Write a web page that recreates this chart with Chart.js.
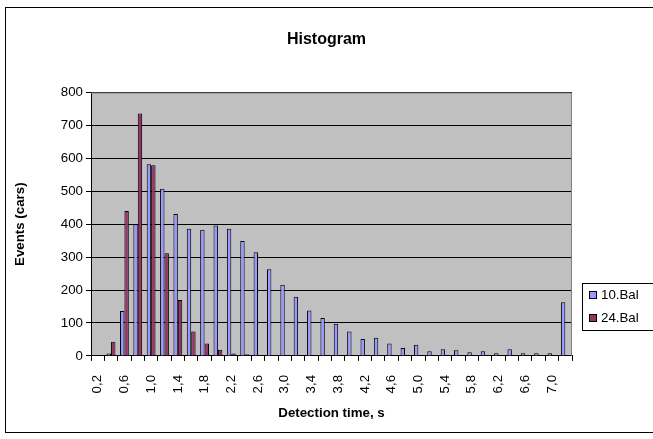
<!DOCTYPE html>
<html><head><meta charset="utf-8">
<script src="https://cdn.jsdelivr.net/npm/chart.js@4/dist/chart.umd.min.js"></script>
<style>html,body{margin:0;padding:0;background:#fff;}</style>
</head><body>
<canvas id="c" width="653" height="439" style="display:block;width:653px;height:439px"></canvas>
<script>
const categories = ['0,2','0,4','0,6','0,8','1,0','1,2','1,4','1,6','1,8','2,0','2,2','2,4','2,6','2,8','3,0','3,2','3,4','3,6','3,8','4,0','4,2','4,4','4,6','4,8','5,0','5,2','5,4','5,6','5,8','6,0','6,2','6,4','6,6','6,8','7,0','More'];
const bal10 = [0,7,136,400,582,508,431,386,383,396,386,349,315,263,216,180,138,115,98,74,51,55,38,24,34,14,20,17,11,14,8,20,8,8,8,163];
const bal24 = [0,43,440,736,579,312,170,74,38,19,7,5,3,3,0,0,0,0,0,0,0,0,0,0,0,0,0,0,0,0,0,0,0,0,0,0];
const seriesNames = ['10.Bal','24.Bal'];
const seriesColors = ['#9999FF','#993366'];
const chartTitle = 'Histogram';
const xTitle = 'Detection time, s';
const yTitle = 'Events (cars)';

const FONT = "'Liberation Sans', Arial, sans-serif";

const decor = {
  id: 'decor',
  beforeDraw(chart) {
    const ctx = chart.ctx, a = chart.chartArea;
    ctx.save();
    ctx.fillStyle = '#fff';
    ctx.fillRect(0, 0, chart.width, chart.height);
    ctx.strokeStyle = '#000';
    ctx.lineWidth = 1;
    ctx.strokeRect(5.5, 7.5, 700, 425);
    ctx.fillStyle = '#C0C0C0';
    ctx.fillRect(a.left, a.top, a.right - a.left, a.bottom - a.top);
    ctx.fillStyle = '#000';
    ctx.font = 'bold 16px ' + FONT;
    ctx.textAlign = 'center';
    ctx.textBaseline = 'middle';
    ctx.fillText(chartTitle, chart.width / 2, 40);
    ctx.restore();
  },
  afterDraw(chart) {
    const ctx = chart.ctx, a = chart.chartArea;
    ctx.save();
    ctx.strokeStyle = '#808080';
    ctx.lineWidth = 1;
    ctx.beginPath();
    ctx.moveTo(a.left, a.top + 0.5);
    ctx.lineTo(Math.round(a.right) - 0.5, a.top + 0.5);
    ctx.lineTo(Math.round(a.right) - 0.5, a.bottom);
    ctx.stroke();
    const lx = 582.5, ly = 283.5;
    ctx.fillStyle = '#fff';
    ctx.fillRect(lx, ly, 80, 47);
    ctx.strokeStyle = '#000';
    ctx.strokeRect(lx, ly, 80, 47);
    ctx.font = '13.3px ' + FONT;
    ctx.textBaseline = 'middle';
    ctx.textAlign = 'left';
    chart.data.datasets.forEach((ds, i) => {
      const cy = 295 + i * 23;
      ctx.fillStyle = ds.backgroundColor;
      ctx.fillRect(589.5, cy - 3.5, 7, 7);
      ctx.strokeStyle = '#000';
      ctx.strokeRect(589.5, cy - 3.5, 7, 7);
      ctx.fillStyle = '#000';
      ctx.fillText(ds.label, 601, cy + 0.5);
    });
    ctx.restore();
  }
};

new Chart(document.getElementById('c'), {
  type: 'bar',
  data: {
    labels: categories,
    datasets: [
      { label: seriesNames[0], data: bal10, backgroundColor: seriesColors[0], borderColor: '#000', borderWidth: 1, borderSkipped: 'start' },
      { label: seriesNames[1], data: bal24, backgroundColor: seriesColors[1], borderColor: '#000', borderWidth: 1, borderSkipped: 'start' }
    ]
  },
  options: {
    responsive: false,
    animation: false,
    devicePixelRatio: 1,
    layout: { padding: { left: 8.8, right: 81, top: 92.5, bottom: 14 } },
    datasets: { bar: { categoryPercentage: 0.66, barPercentage: 1.0 } },
    plugins: {
      legend: { display: false },
      tooltip: { enabled: false },
      title: { display: false }
    },
    scales: {
      x: {
        afterFit(s) { s.height = 69.1; },
        grid: { display: true, drawOnChartArea: false, drawTicks: true, tickLength: 5, color: '#000', offset: true },
        border: { display: true, color: '#000' },
        ticks: {
          autoSkip: false, minRotation: 90, maxRotation: 90, padding: 14, color: '#000',
          font: { family: FONT, size: 13.3 },
          callback(v, i) { return i % 2 === 0 ? categories[i] : ''; }
        },
        title: { display: true, text: xTitle, color: '#000', font: { family: FONT, size: 13.3, weight: 'bold' } }
      },
      y: {
        min: 0, max: 800,
        afterFit(s) { s.width = 82.2; },
        grid: { color: '#000', tickLength: 5, drawTicks: true },
        border: { display: true, color: '#000' },
        ticks: { stepSize: 100, color: '#000', padding: 3, font: { family: FONT, size: 13.3 } },
        title: { display: true, text: yTitle, color: '#000', font: { family: FONT, size: 13.3, weight: 'bold' } }
      }
    }
  },
  plugins: [decor]
});
</script>
</body></html>
